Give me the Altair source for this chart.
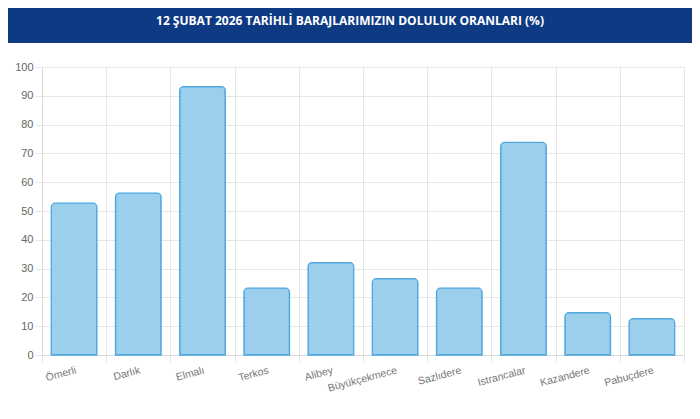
import altair as alt
import pandas as pd

title_text = "12 ŞUBAT 2026 TARİHLİ BARAJLARIMIZIN DOLULUK ORANLARI (%)"
dams = ["Ömerli", "Darlık", "Elmalı", "Terkos", "Alibey",
        "Büyükçekmece", "Sazlıdere", "Istrancalar", "Kazandere", "Pabuçdere"]
fill_rates = [52.7, 56.2, 93.2, 23.2, 32.1, 26.5, 23.2, 73.8, 14.7, 12.6]
y_ticks = list(range(0, 101, 10))

df = pd.DataFrame({"baraj": dams, "oran": fill_rates})
head = pd.DataFrame({"t": [title_text]})

bars = (
    alt.Chart(df)
    .mark_bar(
        width=alt.RelativeBandSize(0.71),
        fill="#9bcfec",
        stroke="#4ea9df",
        strokeWidth=1.3,
        cornerRadiusTopLeft=4,
        cornerRadiusTopRight=4,
    )
    .encode(
        x=alt.X(
            "baraj:N",
            sort=None,
            title=None,
            scale=alt.Scale(paddingInner=0, paddingOuter=0),
            axis=alt.Axis(
                tickBand="extent",
                grid=True,
                gridColor="#e6e6e6",
                tickColor="#e6e6e6",
                domainColor="#d9d9d9",
                tickSize=7,
                labelAngle=-15,
                labelAlign="right",
                labelBaseline="top",
                labelPadding=3,
                labelColor="#777777",
                labelFont="Liberation Sans",
                labelFontSize=10.5,
            ),
        ),
        y=alt.Y(
            "oran:Q",
            title=None,
            scale=alt.Scale(domain=[0, 100], nice=False),
            axis=alt.Axis(
                values=y_ticks,
                grid=True,
                gridColor="#e6e6e6",
                tickColor="#e6e6e6",
                domainColor="#d9d9d9",
                tickSize=7,
                labelPadding=2,
                labelColor="#666666",
                labelFont="Liberation Sans",
                labelFontSize=11,
            ),
        ),
    )
)

band = (
    alt.Chart(head)
    .mark_rect(color="#0e3a84")
    .encode(x=alt.value(-34), x2=alt.value(650), y=alt.value(-59), y2=alt.value(-24))
)

title = (
    alt.Chart(head)
    .mark_text(color="white", font="Open Sans", fontWeight="bold", fontSize=12, baseline="middle")
    .encode(x=alt.value(308), y=alt.value(-46), text="t:N")
)

chart = (
    alt.layer(band, title, bars)
    .properties(
        width=642,
        height=288,
        autosize=alt.AutoSizeParams(type="none"),
        padding={"left": 34, "top": 59, "right": 8, "bottom": 56},
    )
    .configure_view(stroke="#e6e6e6")
)

chart.save("out.html", embed_options={"renderer": "svg", "actions": False})
